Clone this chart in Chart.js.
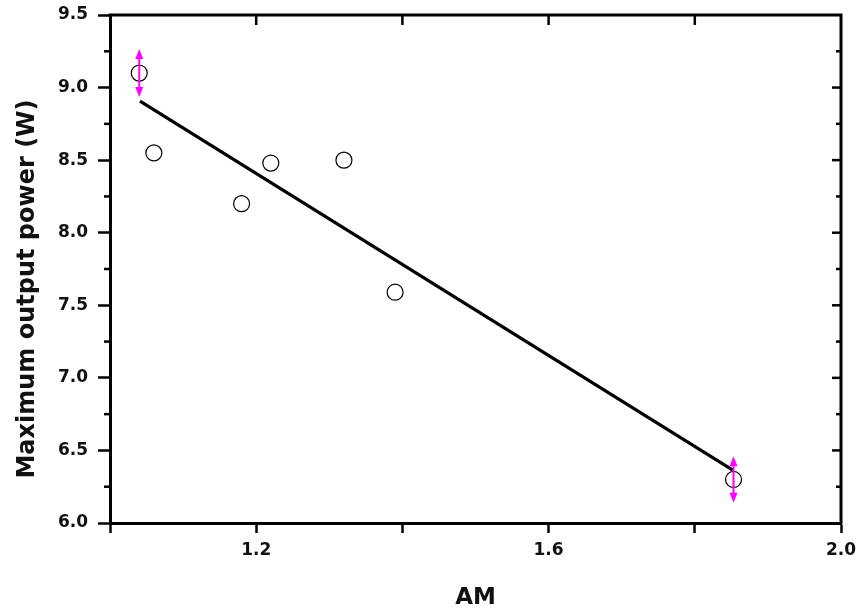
<!DOCTYPE html>
<html>
<head>
<meta charset="utf-8">
<script src="https://cdn.jsdelivr.net/npm/chart.js@4.4.1/dist/chart.umd.min.js"></script>
<style>
  html, body { margin: 0; padding: 0; background: #ffffff; }
  #wrap { width: 861px; height: 613px; position: relative; }
</style>
</head>
<body>
<div id="wrap"><canvas id="c"></canvas></div>
<script>
// ---- data ----
const amValues    = [1.04, 1.06, 1.18, 1.22, 1.32, 1.39, 1.853];
const powerValues = [9.10, 8.55, 8.20, 8.48, 8.50, 7.59, 6.30];
const errorValues = [0.165, 0, 0, 0, 0, 0, 0.16];
const fitX = [1.041, 1.852];
const fitY = [8.907, 6.365];
const xLabeled = [1.2, 1.6, 2.0];
const xTitle = 'AM';
const yTitle = 'Maximum output power (W)';

const tickFont = { family: 'DejaVu Sans', weight: 'bold', size: 17 };
const INK = '#111111';

const framePlugin = {
  id: 'frame',
  afterDatasetsDraw(chart) {
    const { ctx, scales: { x, y } } = chart;
    ctx.save();
    ctx.strokeStyle = '#ff00ff';
    ctx.fillStyle = '#ff00ff';
    ctx.lineWidth = 2;
    amValues.forEach((xv, i) => {
      const e = errorValues[i];
      if (!e) return;
      const px = x.getPixelForValue(xv);
      const top = y.getPixelForValue(powerValues[i] + e);
      const bot = y.getPixelForValue(powerValues[i] - e);
      ctx.beginPath();
      ctx.moveTo(px, top + 4);
      ctx.lineTo(px, bot - 4);
      ctx.stroke();
      // arrow heads
      ctx.beginPath();
      ctx.moveTo(px, top);
      ctx.lineTo(px - 4, top + 10);
      ctx.lineTo(px + 4, top + 10);
      ctx.closePath();
      ctx.fill();
      ctx.beginPath();
      ctx.moveTo(px, bot);
      ctx.lineTo(px - 4, bot - 10);
      ctx.lineTo(px + 4, bot - 10);
      ctx.closePath();
      ctx.fill();
    });
    ctx.restore();
  },
  afterDraw(chart) {
    const { ctx, chartArea: a, scales: { x, y } } = chart;
    ctx.save();
    ctx.strokeStyle = '#000';
    ctx.lineWidth = 3;
    // top and right frame lines
    ctx.beginPath();
    ctx.moveTo(a.left - 1.5, a.top);
    ctx.lineTo(a.right, a.top);
    ctx.lineTo(a.right, a.bottom + 1.5);
    ctx.stroke();
    ctx.lineWidth = 2.5;
    // inward ticks on top
    x.ticks.forEach(t => {
      const px = x.getPixelForValue(t.value);
      if (px <= a.left + 2 || px >= a.right - 2) return;
      ctx.beginPath();
      ctx.moveTo(px, a.top);
      ctx.lineTo(px, a.top + 10);
      ctx.stroke();
    });
    // right inward major ticks + minor ticks both sides
    for (let v = y.min; v <= y.max + 1e-9; v += 0.25) {
      const py = y.getPixelForValue(v);
      const major = Math.abs(Math.round(v * 2) - v * 2) < 1e-6;
      if (py > a.top + 2 && py < a.bottom - 2) {
        ctx.beginPath();
        ctx.moveTo(a.right, py);
        ctx.lineTo(a.right - (major ? 9 : 5), py);
        ctx.stroke();
      }
      if (!major) {
        ctx.beginPath();
        ctx.moveTo(a.left, py);
        ctx.lineTo(a.left - 6, py);
        ctx.stroke();
      }
    }
    // y title
    ctx.translate(28, 289);
    ctx.rotate(-Math.PI / 2);
    ctx.fillStyle = INK;
    ctx.font = 'bold 24px "DejaVu Sans"';
    ctx.textAlign = 'center';
    ctx.textBaseline = 'middle';
    ctx.fillText(yTitle, 0, 0);
    ctx.restore();
  }
};

new Chart(document.getElementById('c'), {
  type: 'scatter',
  data: {
    datasets: [
      {
        label: 'Measured',
        data: amValues.map((v, i) => ({ x: v, y: powerValues[i] })),
        pointStyle: 'circle',
        pointRadius: 8,
        pointBorderWidth: 1.2,
        pointBorderColor: '#000',
        pointBackgroundColor: '#fff',
        showLine: false,
        order: 1
      },
      {
        label: 'Fit',
        data: fitX.map((v, i) => ({ x: v, y: fitY[i] })),
        showLine: true,
        borderColor: '#000',
        borderWidth: 3.2,
        pointRadius: 0,
        fill: false,
        order: 2
      }
    ]
  },
  options: {
    responsive: true,
    maintainAspectRatio: false,
    animation: false,
    layout: { padding: { left: 0, top: 15, right: 20, bottom: 0 } },
    plugins: { legend: { display: false }, tooltip: { enabled: false } },
    scales: {
      x: {
        type: 'linear',
        min: 1.0,
        max: 2.0,
        afterFit(s) { s.height = 90; s.paddingLeft = 0; s.paddingRight = 0; },
        border: { display: true, color: '#000', width: 3 },
        grid: { display: true, drawOnChartArea: false, drawTicks: true, tickLength: 10, tickWidth: 2.5, tickColor: '#000' },
        ticks: {
          stepSize: 0.2,
          padding: 7,
          maxRotation: 0,
          autoSkip: false,
          color: INK,
          font: tickFont,
          callback(v) {
            const r = Math.round(v * 10) / 10;
            return xLabeled.some(l => Math.abs(l - r) < 1e-6) ? r.toFixed(1) : '';
          }
        },
        title: {
          display: true,
          text: xTitle,
          color: INK,
          font: { family: 'DejaVu Sans', weight: 'bold', size: 23 },
          padding: { top: 0, bottom: 1 }
        }
      },
      y: {
        type: 'linear',
        min: 6.0,
        max: 9.5,
        afterFit(s) { s.width = 110; s.paddingTop = 0; s.paddingBottom = 0; },
        border: { display: true, color: '#000', width: 3 },
        grid: { display: true, drawOnChartArea: false, drawTicks: true, tickLength: 12, tickWidth: 2.5, tickColor: '#000' },
        ticks: {
          stepSize: 0.5,
          padding: 10,
          color: INK,
          font: tickFont,
          callback(v) { return (Math.round(v * 10) / 10).toFixed(1); }
        },
        title: { display: false }
      }
    }
  },
  plugins: [framePlugin]
});
</script>
</body>
</html>
